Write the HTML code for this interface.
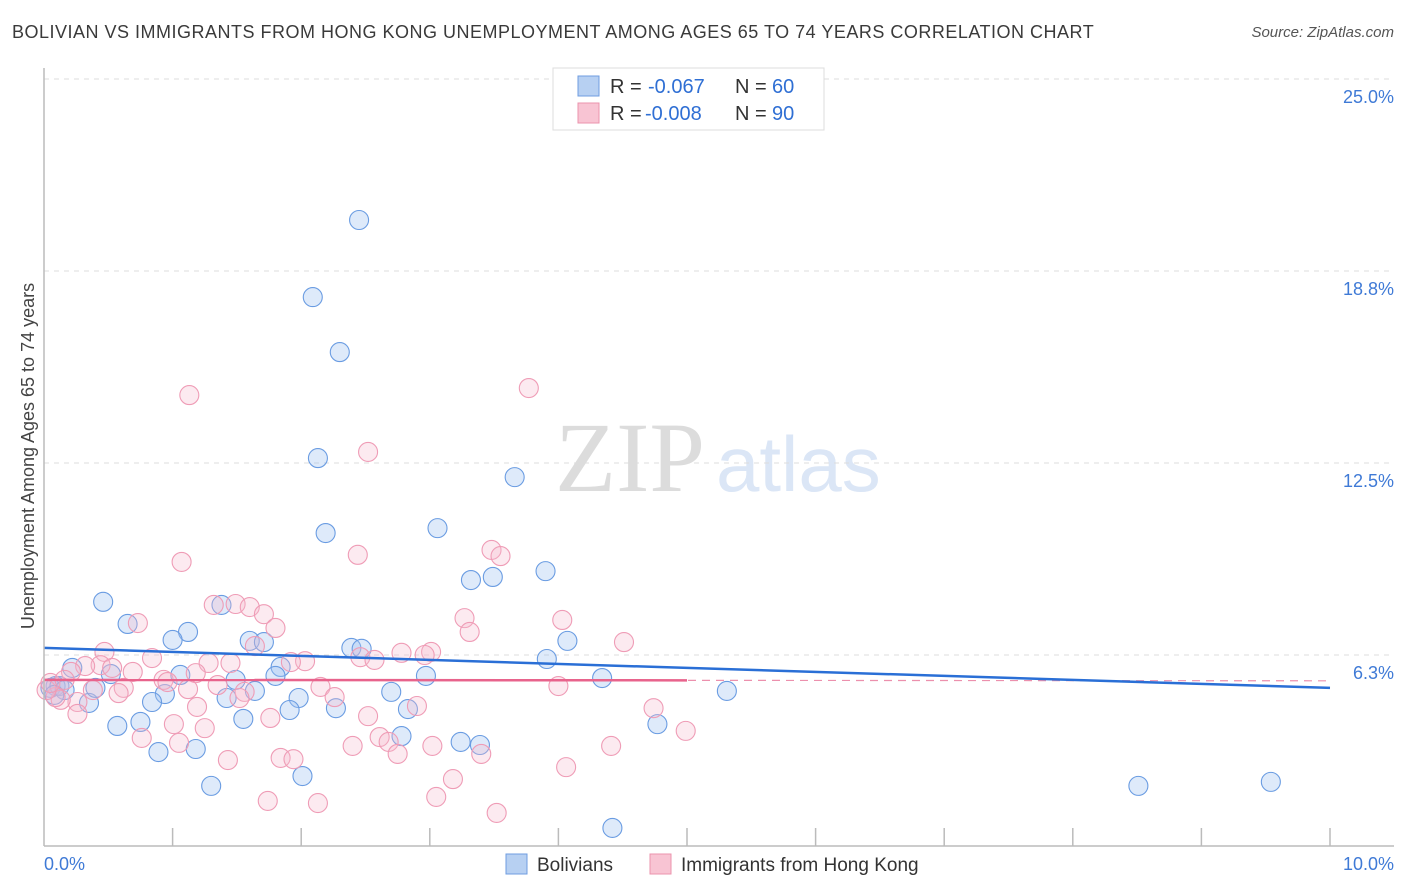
<!DOCTYPE html>
<html><head><meta charset="utf-8"><style>
body{margin:0;background:#fff;font-family:"Liberation Sans",sans-serif}
#wrap{position:relative;width:1406px;height:892px;overflow:hidden}
.t{position:absolute;white-space:nowrap}
</style></head><body>
<div id="wrap">
<div class="t" style="left:12px;top:22px;font-size:18px;letter-spacing:0.5px;color:#3a3a3a">BOLIVIAN VS IMMIGRANTS FROM HONG KONG UNEMPLOYMENT AMONG AGES 65 TO 74 YEARS CORRELATION CHART</div>
<div class="t" style="right:12px;top:24px;font-size:15px;color:#555;font-style:italic">Source: ZipAtlas.com</div>
<svg id="svg" width="1406" height="892" style="position:absolute;left:0;top:0">
<text x="555" y="491" font-family="Liberation Serif" font-size="100" fill="#dcdcdc">ZIP</text>
<text x="716" y="491" font-family="Liberation Sans" font-size="78" fill="#dbe6f6">atlas</text>
<g id="grid"></g><g id="pts"></g><g id="lines"></g><g id="axes"></g>
<g>
<rect x="553" y="68" width="271" height="62" fill="#fff" stroke="#ddd"/>
<rect x="578" y="76" width="21" height="20" fill="#b7d0f2" stroke="#6f9de0"/>
<rect x="578" y="103" width="21" height="20" fill="#f8c4d3" stroke="#eb93ad"/>
<text y="93" font-size="20" fill="#333"><tspan x="610">R =</tspan><tspan x="648" fill="#2f6fd4">-0.067</tspan><tspan x="735">N =</tspan><tspan x="772" fill="#2f6fd4">60</tspan></text>
<text y="120" font-size="20" fill="#333"><tspan x="610">R =</tspan><tspan x="645" fill="#2f6fd4">-0.008</tspan><tspan x="735">N =</tspan><tspan x="772" fill="#2f6fd4">90</tspan></text>
</g>
<text x="34" y="456" transform="rotate(-90 34 456)" text-anchor="middle" font-size="18" fill="#444">Unemployment Among Ages 65 to 74 years</text>
<text x="44" y="870" font-size="18" fill="#3f7ad6">0.0%</text>
<text x="1394" y="870" text-anchor="end" font-size="18" fill="#3f7ad6">10.0%</text>
<rect x="506" y="854" width="21" height="20" fill="#b7d0f2" stroke="#6f9de0"/>
<text x="537" y="871" font-size="19" fill="#333">Bolivians</text>
<rect x="650" y="854" width="21" height="20" fill="#f8c4d3" stroke="#eb93ad"/>
<text x="681" y="871" font-size="19" fill="#333">Immigrants from Hong Kong</text>
</svg>
</div>
<script>
const yTicks=[6.25,12.5,18.75,25];
const yTickLabels=["6.3%","12.5%","18.8%","25.0%"];
const blueX=[2.45,2.09,2.30,2.13,3.66,2.19,3.06,3.90,3.49,3.32,0.46,1.38,0.65,1.12,1.00,1.60,1.71,2.39,2.47,4.07,3.91,1.84,2.97,1.80,1.06,4.34,0.52,0.22,1.49,5.31,2.70,1.64,1.98,0.94,1.42,0.84,0.35,0.09,0.05,1.91,2.27,2.83,0.57,0.75,1.55,4.77,2.78,3.24,3.39,1.18,0.89,2.01,1.30,8.51,9.54,4.42,0.12,0.16,0.40,0.08];
const blueY=[20.41,17.90,16.11,12.66,12.04,10.22,10.38,8.98,8.79,8.69,7.98,7.88,7.26,7.00,6.74,6.71,6.67,6.48,6.45,6.71,6.12,5.86,5.57,5.57,5.60,5.50,5.63,5.83,5.44,5.08,5.05,5.08,4.85,4.98,4.85,4.72,4.69,5.24,5.18,4.46,4.52,4.49,3.94,4.07,4.17,4.00,3.61,3.42,3.32,3.19,3.09,2.31,1.99,1.99,2.12,0.62,5.24,5.11,5.18,4.95];
const pinkX=[1.13,3.77,2.52,1.07,2.44,3.48,3.55,1.32,1.49,1.60,1.71,0.73,3.27,3.31,4.03,1.80,4.51,1.64,0.47,0.84,2.78,3.01,2.96,2.46,2.57,2.03,1.92,1.28,1.45,0.44,0.32,0.21,0.53,0.69,1.18,0.93,0.96,0.62,0.38,0.58,1.12,1.35,2.15,1.56,1.52,2.26,4.00,0.26,1.19,4.74,2.90,0.26,0.76,1.01,1.25,1.76,2.52,4.99,4.41,2.40,2.61,2.68,2.75,3.02,3.40,1.05,1.43,1.84,1.94,3.18,4.06,1.74,2.13,3.05,3.52,0.13,0.09,0.02,0.05,0.16];
const pinkY=[14.71,14.94,12.86,9.28,9.51,9.67,9.47,7.88,7.91,7.81,7.58,7.29,7.45,7.00,7.39,7.13,6.67,6.54,6.35,6.15,6.32,6.35,6.25,6.18,6.09,6.05,6.02,5.99,5.99,5.92,5.89,5.70,5.83,5.70,5.66,5.44,5.37,5.18,5.11,5.01,5.14,5.27,5.21,5.05,4.85,4.88,5.24,4.72,4.56,4.52,4.59,4.33,3.55,4.00,3.87,4.20,4.26,3.78,3.29,3.29,3.58,3.42,3.03,3.29,3.03,3.39,2.83,2.90,2.86,2.21,2.60,1.50,1.43,1.63,1.11,4.79,4.88,5.11,5.34,5.44];
const blueTrend=[6.48,5.18];
const pinkTrend=[5.44,5.41];
const pinkSolidEnd=5.0;
const ns="http://www.w3.org/2000/svg";
const X=v=>44+v*128.6, Y=v=>847-v*30.72;
function mk(tag,attrs,parent){const e=document.createElementNS(ns,tag);for(const k in attrs)e.setAttribute(k,attrs[k]);document.getElementById(parent).appendChild(e);return e;}
yTicks.forEach((t,i)=>{
 const g=mk('line',{x1:44,x2:1394,y1:Y(t),y2:Y(t),stroke:'#dcdcdc','stroke-dasharray':'5,5'},'grid');
 
 
 const tx=mk('text',{x:1394,y:Y(t)+24,'text-anchor':'end','font-size':18,fill:'#3f7ad6'},'grid');
 tx.textContent=yTickLabels[i];
 
 
});
blueX.forEach((v,i)=>{
 const c=mk('circle',{cx:X(v),cy:Y(blueY[i]),r:9.5,fill:'rgba(160,195,240,0.35)',stroke:'#6a9ce2','stroke-width':1.1},'pts');
 
 
});
pinkX.forEach((v,i)=>{
 const c=mk('circle',{cx:X(v),cy:Y(pinkY[i]),r:9.5,fill:'rgba(246,185,205,0.3)',stroke:'#ef9cb6','stroke-width':1.1},'pts');
 
 
});
const pAt=x=>pinkTrend[0]+(pinkTrend[1]-pinkTrend[0])*x/10;
let l=mk('line',{x1:X(0),x2:X(10),y1:Y(pinkTrend[0]),y2:Y(pinkTrend[1]),stroke:'#ec90ad','stroke-width':1.2,'stroke-dasharray':'8,6'},'lines');


l=mk('line',{x1:X(0),x2:X(pinkSolidEnd),y1:Y(pinkTrend[0]),y2:Y(pAt(pinkSolidEnd)),stroke:'#e8638c','stroke-width':2.5},'lines');


l=mk('line',{x1:X(0),x2:X(10),y1:Y(blueTrend[0]),y2:Y(blueTrend[1]),stroke:'#2a6fd6','stroke-width':2.5},'lines');


l=mk('line',{x1:44,x2:44,y1:68,y2:846,stroke:'#bbb','stroke-width':1.5},'axes');


l=mk('line',{x1:44,x2:1394,y1:846,y2:846,stroke:'#bbb','stroke-width':1.5},'axes');


for(let i=1;i<=10;i++){
 const t=mk('line',{x1:X(i),x2:X(i),y1:828,y2:846,stroke:'#bbb','stroke-width':1.5},'axes');
 
 
}
</script>
</body></html>
